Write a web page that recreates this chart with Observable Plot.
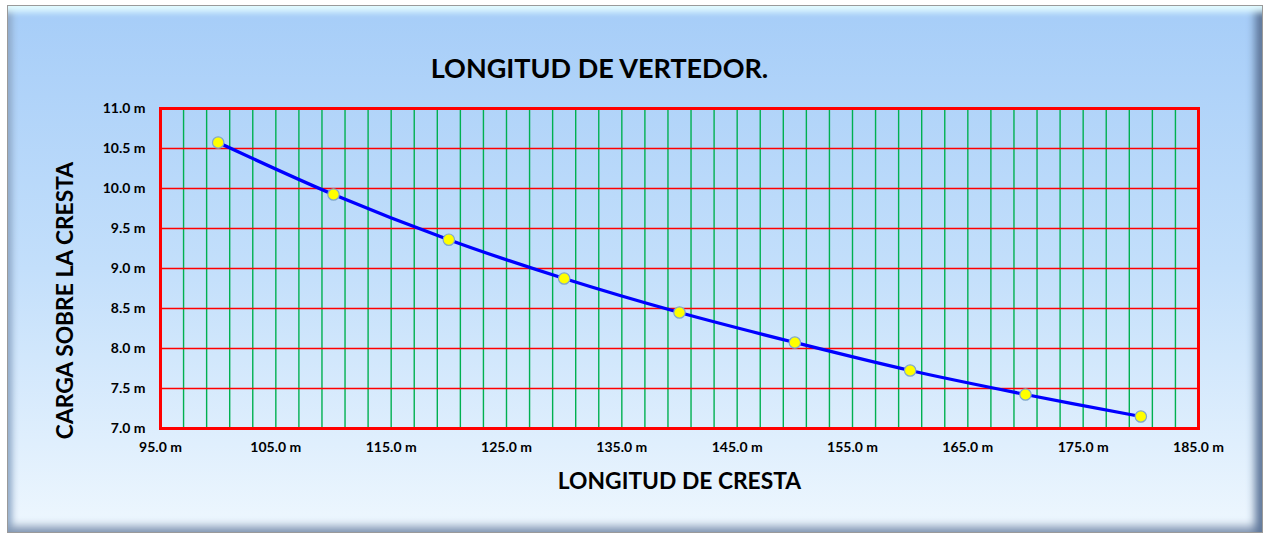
<!DOCTYPE html>
<html><head><meta charset="utf-8">
<script src="https://cdn.jsdelivr.net/npm/d3@7"></script>
<script src="https://cdn.jsdelivr.net/npm/@observablehq/plot@0.6"></script>
<style>
html,body{margin:0;padding:0;background:#fff;}
#wrap{position:relative;width:1270px;height:539px;overflow:hidden;}
#panel{position:absolute;left:7px;top:5px;width:1256px;height:528px;border:1px solid #9a9a9a;box-sizing:border-box;
background:linear-gradient(to bottom,#a6cdf8 0%,#c3dffb 50%,#eef7fe 100%);
box-shadow: inset 0 12px 6px -6px #e2fbff, inset -12px 0 9px -5px #5f779a, inset 0 -11px 8px -5px #8a9db8, inset 9px 0 7px -5px #8fa9c8;}
#chart{position:absolute;left:0;top:0;}
</style></head>
<body>
<div id="wrap"><div id="panel"></div><div id="chart"></div></div>
<script>
const longitud = [100, 110, 120, 130, 140, 150, 160, 170, 180];
const carga = [10.575, 9.925, 9.36, 8.875, 8.45, 8.075, 7.725, 7.425, 7.15];
const xTicks = [95, 105, 115, 125, 135, 145, 155, 165, 175, 185];
const yTicks = [7.0, 7.5, 8.0, 8.5, 9.0, 9.5, 10.0, 10.5, 11.0];
const yGrid = [7.5, 8.0, 8.5, 9.0, 9.5, 10.0, 10.5];
const xGrid = d3.range(97, 184, 2);
const titulo = "LONGITUD DE VERTEDOR.";
const tituloX = "LONGITUD DE CRESTA";
const tituloY = "CARGA SOBRE LA CRESTA";

const data = longitud.map((x, i) => ({x, y: carga[i]}));
const fmt = d => d.toFixed(1) + " m";

const chart = Plot.plot({
  width: 1270, height: 539,
  marginLeft: 160, marginRight: 72, marginTop: 108, marginBottom: 111,
  style: {background: "transparent", fontFamily: "Lato, 'Open Sans', sans-serif", fontWeight: "bold", fontSize: "14px", color: "#000"},
  x: {domain: [95, 185]},
  y: {domain: [7, 11]},
  marks: [
    Plot.ruleX(xGrid, {stroke: "#00b050", strokeWidth: 1.4}),
    Plot.ruleY(yGrid, {stroke: "#ff0000", strokeWidth: 1.5}),
    Plot.frame({stroke: "#ff0000", strokeWidth: 3}),
    Plot.axisX({ticks: xTicks, tickFormat: fmt, tickSize: 0, tickPadding: 14, label: null}),
    Plot.axisY({ticks: yTicks, tickFormat: fmt, tickSize: 0, tickPadding: 15, label: null}),
    Plot.line(data, {x: "x", y: "y", stroke: "#0000ff", strokeWidth: 3.3, curve: "catmull-rom"}),
    Plot.dot(data, {x: "x", y: "y", r: 5.7, fill: "#ffff00", stroke: "#7fa6cf", strokeWidth: 1.2}),
    Plot.text([titulo], {frameAnchor: "top", dx: -80, dy: -50, fontSize: 27, fontWeight: "bold", fill: "#000"}),
    Plot.text([tituloX], {frameAnchor: "bottom", dx: 0, dy: 60, fontSize: 22.8, fontWeight: "bold", fill: "#000"}),
    Plot.text([tituloY], {frameAnchor: "left", textAnchor: "middle", lineAnchor: "middle", dx: -95, dy: 32, rotate: -90, fontSize: 22.8, fontWeight: "bold", fill: "#000"})
  ]
});
document.getElementById("chart").appendChild(chart);
</script>
</body></html>
